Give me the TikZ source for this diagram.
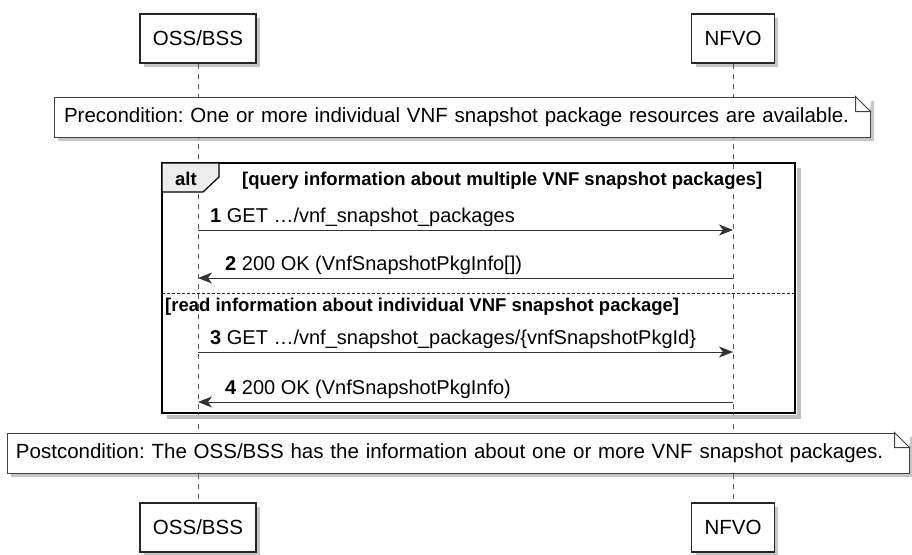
\documentclass[tikz,border=0pt]{standalone}
\usepackage{fontspec}
\setmainfont{Liberation Sans}
\usetikzlibrary{arrows.meta,shadows}
\frenchspacing

\begin{document}
\begin{tikzpicture}[
  x=1pt, y=-1pt,
  >={Stealth[length=14pt,width=11pt,inset=4pt]},
  softshadow/.style={
    drop shadow={shadow xshift=4pt, shadow yshift=-4pt, fill=black!50, opacity=.45}
  },
  actor/.style={
    draw=black!85,
    line width=1.3pt,
    fill=white,
    font=\fontsize{20.5}{24}\selectfont,
    minimum height=49pt,
    inner xsep=13pt,
    softshadow
  },
  lifeline/.style={draw=black!65, line width=0.8pt, dash pattern=on 5pt off 5pt},
  notebox/.style={
    draw=black!75,
    line width=1pt,
    fill=white,
    font=\fontsize{20.5}{24}\selectfont,
    align=left,
    minimum height=40pt,
    softshadow
  },
  fold/.style={draw=black!75, line width=1pt, fill=white},
  msg/.style={->, draw=black!80, line width=1pt},
  msglabel/.style={font=\fontsize{20}{24}\selectfont, anchor=base west, inner sep=0pt},
  guard/.style={font=\bfseries\fontsize{18.5}{22}\selectfont, anchor=base west, inner sep=0pt},
  altframe/.style={draw=black, line width=2.5pt},
  alttab/.style={draw=black, line width=1.2pt, fill=black!7},
  separator/.style={draw=black!85, line width=0.9pt, dash pattern=on 2.5pt off 2.5pt}
]
\useasboundingbox (0,0) rectangle (912,554);

\node[actor] (ossTop) at (198,38.5) {OSS/BSS};
\node[actor] (nfvoTop) at (733,38.5) {NFVO};
\node[actor] (ossBot) at (198,527.5) {OSS/BSS};
\node[actor] (nfvoBot) at (733,527.5) {NFVO};

\draw[lifeline] (ossTop) -- (ossBot);
\draw[lifeline] (nfvoTop) -- (nfvoBot);

\node[notebox, inner xsep=10pt, text width=796pt] (pre) at (462,117)
  {Precondition: One or more individual VNF snapshot package resources are available.};
\fill[white] ([xshift=-15pt]pre.north east) -- ([xshift=1pt,yshift=1pt]pre.north east) -- ([yshift=-15pt]pre.north east) -- cycle;
\draw[fold] ([xshift=-15pt]pre.north east) -- ([yshift=-15pt]pre.north east)
  -- ([xshift=-15pt,yshift=-15pt]pre.north east) -- cycle;

\coordinate (frameNW) at (162,163);
\coordinate (frameSE) at (795,413);
\fill[black!25] (797,168) rectangle (801,418);
\fill[black!25] (167,415) rectangle (801,419);
\draw[altframe] (frameNW) rectangle (frameSE);
\draw[alttab] (frameNW) -- (219,163) -- (219,177) -- (203,192) -- (162,192) -- cycle;
\node[guard] (altlabel) at (175,185) {alt};
\node[guard] (g1) at (242,185) {[query information about multiple VNF snapshot packages]};
\draw[separator] (frameNW |- 0,293) -- (frameSE |- 0,293);
\node[guard] (g2) at (165,311) {[read information about individual VNF snapshot package]};

\draw[msg] (ossTop |- 0,230) -- (nfvoTop |- 0,230);
\node[msglabel] (m1) at (210,222) {\textbf{1} GET …/vnf\_snapshot\_packages};
\draw[msg] (nfvoTop |- 0,278) -- (ossTop |- 0,278);
\node[msglabel] (m2) at (225,270) {\textbf{2} 200 OK (VnfSnapshotPkgInfo[])};
\draw[msg] (ossTop |- 0,352) -- (nfvoTop |- 0,352);
\node[msglabel] (m3) at (210,344) {\textbf{3} GET …/vnf\_snapshot\_packages/\{vnfSnapshotPkgId\}};
\draw[msg] (nfvoTop |- 0,402) -- (ossTop |- 0,402);
\node[msglabel] (m4) at (225,394) {\textbf{4} 200 OK (VnfSnapshotPkgInfo)};

\node[notebox, inner xsep=9pt, text width=884pt] (post) at (458,453)
  {Postcondition: The OSS/BSS has the information about one or more VNF snapshot packages.};
\fill[white] ([xshift=-15pt]post.north east) -- ([xshift=1pt,yshift=1pt]post.north east) -- ([yshift=-15pt]post.north east) -- cycle;
\draw[fold] ([xshift=-15pt]post.north east) -- ([yshift=-15pt]post.north east)
  -- ([xshift=-15pt,yshift=-15pt]post.north east) -- cycle;

\end{tikzpicture}
\end{document}
